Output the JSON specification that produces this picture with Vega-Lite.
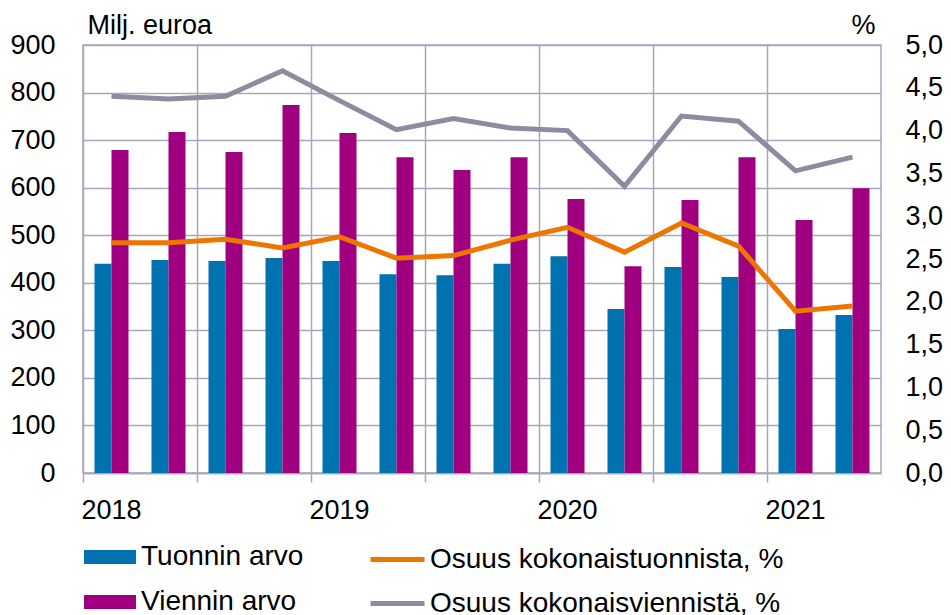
{
  "$schema": "https://vega.github.io/schema/vega-lite/v6.json",
  "width": 798,
  "height": 428,
  "autosize": {"type": "none"},
  "padding": {"left": 83, "top": 45, "right": 70, "bottom": 142},
  "background": "white",
  "config": {
    "font": "Liberation Sans",
    "view": {"stroke": "#A6A6BC", "strokeWidth": 1.5},
    "axis": {
      "labelFont": "Liberation Sans",
      "labelColor": "#000000",
      "labelFontSize": 27,
      "titleFont": "Liberation Sans",
      "titleFontSize": 27,
      "titleFontWeight": "normal",
      "titleColor": "#000000",
      "gridColor": "#A6A6BC",
      "gridWidth": 1.5,
      "gridOpacity": 1,
      "domainColor": "#A6A6BC",
      "domainWidth": 1.5,
      "tickColor": "#A6A6BC",
      "tickWidth": 1.5
    },
    "legend": {
      "labelFont": "Liberation Sans",
      "labelFontSize": 28,
      "labelColor": "#000000",
      "labelLimit": 0,
      "padding": 0
    }
  },
  "data": {
    "values": [
      {"q": "2018Q1", "sarja": "Tuonnin arvo", "arvo": 440},
      {"q": "2018Q2", "sarja": "Tuonnin arvo", "arvo": 448},
      {"q": "2018Q3", "sarja": "Tuonnin arvo", "arvo": 446},
      {"q": "2018Q4", "sarja": "Tuonnin arvo", "arvo": 452},
      {"q": "2019Q1", "sarja": "Tuonnin arvo", "arvo": 446},
      {"q": "2019Q2", "sarja": "Tuonnin arvo", "arvo": 418},
      {"q": "2019Q3", "sarja": "Tuonnin arvo", "arvo": 416},
      {"q": "2019Q4", "sarja": "Tuonnin arvo", "arvo": 440},
      {"q": "2020Q1", "sarja": "Tuonnin arvo", "arvo": 456},
      {"q": "2020Q2", "sarja": "Tuonnin arvo", "arvo": 345},
      {"q": "2020Q3", "sarja": "Tuonnin arvo", "arvo": 433},
      {"q": "2020Q4", "sarja": "Tuonnin arvo", "arvo": 412},
      {"q": "2021Q1", "sarja": "Tuonnin arvo", "arvo": 303},
      {"q": "2021Q2", "sarja": "Tuonnin arvo", "arvo": 332},
      {"q": "2018Q1", "sarja": "Viennin arvo", "arvo": 679},
      {"q": "2018Q2", "sarja": "Viennin arvo", "arvo": 717},
      {"q": "2018Q3", "sarja": "Viennin arvo", "arvo": 675},
      {"q": "2018Q4", "sarja": "Viennin arvo", "arvo": 774},
      {"q": "2019Q1", "sarja": "Viennin arvo", "arvo": 715},
      {"q": "2019Q2", "sarja": "Viennin arvo", "arvo": 664},
      {"q": "2019Q3", "sarja": "Viennin arvo", "arvo": 637},
      {"q": "2019Q4", "sarja": "Viennin arvo", "arvo": 664},
      {"q": "2020Q1", "sarja": "Viennin arvo", "arvo": 576},
      {"q": "2020Q2", "sarja": "Viennin arvo", "arvo": 435},
      {"q": "2020Q3", "sarja": "Viennin arvo", "arvo": 574},
      {"q": "2020Q4", "sarja": "Viennin arvo", "arvo": 664},
      {"q": "2021Q1", "sarja": "Viennin arvo", "arvo": 532},
      {"q": "2021Q2", "sarja": "Viennin arvo", "arvo": 599},
      {"q": "2018Q1", "sarja": "Osuus kokonaistuonnista, %", "arvo": 2.69},
      {"q": "2018Q2", "sarja": "Osuus kokonaistuonnista, %", "arvo": 2.69},
      {"q": "2018Q3", "sarja": "Osuus kokonaistuonnista, %", "arvo": 2.73},
      {"q": "2018Q4", "sarja": "Osuus kokonaistuonnista, %", "arvo": 2.63},
      {"q": "2019Q1", "sarja": "Osuus kokonaistuonnista, %", "arvo": 2.76},
      {"q": "2019Q2", "sarja": "Osuus kokonaistuonnista, %", "arvo": 2.51},
      {"q": "2019Q3", "sarja": "Osuus kokonaistuonnista, %", "arvo": 2.54},
      {"q": "2019Q4", "sarja": "Osuus kokonaistuonnista, %", "arvo": 2.72},
      {"q": "2020Q1", "sarja": "Osuus kokonaistuonnista, %", "arvo": 2.87},
      {"q": "2020Q2", "sarja": "Osuus kokonaistuonnista, %", "arvo": 2.58},
      {"q": "2020Q3", "sarja": "Osuus kokonaistuonnista, %", "arvo": 2.92},
      {"q": "2020Q4", "sarja": "Osuus kokonaistuonnista, %", "arvo": 2.65},
      {"q": "2021Q1", "sarja": "Osuus kokonaistuonnista, %", "arvo": 1.89},
      {"q": "2021Q2", "sarja": "Osuus kokonaistuonnista, %", "arvo": 1.95},
      {"q": "2018Q1", "sarja": "Osuus kokonaisviennistä, %", "arvo": 4.40},
      {"q": "2018Q2", "sarja": "Osuus kokonaisviennistä, %", "arvo": 4.37},
      {"q": "2018Q3", "sarja": "Osuus kokonaisviennistä, %", "arvo": 4.40},
      {"q": "2018Q4", "sarja": "Osuus kokonaisviennistä, %", "arvo": 4.70},
      {"q": "2019Q1", "sarja": "Osuus kokonaisviennistä, %", "arvo": 4.35},
      {"q": "2019Q2", "sarja": "Osuus kokonaisviennistä, %", "arvo": 4.01},
      {"q": "2019Q3", "sarja": "Osuus kokonaisviennistä, %", "arvo": 4.14},
      {"q": "2019Q4", "sarja": "Osuus kokonaisviennistä, %", "arvo": 4.03},
      {"q": "2020Q1", "sarja": "Osuus kokonaisviennistä, %", "arvo": 4.00},
      {"q": "2020Q2", "sarja": "Osuus kokonaisviennistä, %", "arvo": 3.35},
      {"q": "2020Q3", "sarja": "Osuus kokonaisviennistä, %", "arvo": 4.17},
      {"q": "2020Q4", "sarja": "Osuus kokonaisviennistä, %", "arvo": 4.11},
      {"q": "2021Q1", "sarja": "Osuus kokonaisviennistä, %", "arvo": 3.53},
      {"q": "2021Q2", "sarja": "Osuus kokonaisviennistä, %", "arvo": 3.69}
    ]
  },
  "layer": [
    {
      "transform": [{"filter": "datum.sarja == 'Tuonnin arvo' || datum.sarja == 'Viennin arvo'"}],
      "mark": {"type": "bar"},
      "encoding": {
        "x": {
          "field": "q",
          "type": "ordinal",
          "sort": null,
          "scale": {"paddingInner": 0, "paddingOuter": 0},
          "axis": {
            "title": null,
            "values": ["2018Q1", "2018Q3", "2019Q1", "2019Q3", "2020Q1", "2020Q3", "2021Q1"],
            "bandPosition": 0,
            "labelOffset": 0,
            "labelExpr": "indexof(datum.value, 'Q1') > 0 ? slice(datum.value, 0, 4) : ''",
            "labelAngle": 0,
            "labelOverlap": false,
            "grid": true,
            "ticks": true,
            "tickSize": 9,
            "labelPadding": 15
          }
        },
        "xOffset": {
          "field": "sarja",
          "type": "nominal",
          "sort": ["Tuonnin arvo", "Viennin arvo"],
          "scale": {"paddingInner": 0, "paddingOuter": 0.676}
        },
        "y": {
          "field": "arvo",
          "type": "quantitative",
          "scale": {"domain": [0, 900], "nice": false},
          "axis": {
            "values": [0, 100, 200, 300, 400, 500, 600, 700, 800, 900],
            "title": "Milj. euroa",
            "titleAngle": 0,
            "titleX": 4,
            "titleY": -12,
            "titleAlign": "left",
            "titleBaseline": "alphabetic",
            "ticks": false,
            "tickSize": 0,
            "domain": false,
            "grid": true,
            "labelPadding": 28
          }
        },
        "fill": {
          "field": "sarja",
          "type": "nominal",
          "scale": {"domain": ["Tuonnin arvo", "Viennin arvo"], "range": ["#0072B0", "#A0007F"]},
          "legend": {
            "orient": "none",
            "legendX": 1,
            "legendY": 486,
            "title": null,
            "direction": "vertical",
            "symbolType": "M-1,-0.27L1,-0.27L1,0.27L-1,0.27Z",
            "symbolSize": 2704,
            "symbolStrokeWidth": 0,
            "symbolOpacity": 1,
            "rowPadding": 5,
            "labelOffset": 5
          }
        }
      }
    },
    {
      "transform": [{"filter": "datum.sarja != 'Tuonnin arvo' && datum.sarja != 'Viennin arvo'"}],
      "mark": {"type": "line", "strokeWidth": 5},
      "encoding": {
        "x": {"field": "q", "type": "ordinal", "sort": null},
        "y": {
          "field": "arvo",
          "type": "quantitative",
          "scale": {"domain": [0, 5], "nice": false},
          "axis": {
            "orient": "right",
            "values": [0, 0.5, 1, 1.5, 2, 2.5, 3, 3.5, 4, 4.5, 5],
            "format": ".1f",
            "labelExpr": "replace(datum.label, '.', ',')",
            "title": "%",
            "titleAngle": 0,
            "titleX": -6,
            "titleY": -12,
            "titleAlign": "right",
            "titleBaseline": "alphabetic",
            "ticks": false,
            "tickSize": 0,
            "domain": false,
            "grid": false,
            "labelPadding": 24
          }
        },
        "stroke": {
          "field": "sarja",
          "type": "nominal",
          "scale": {"domain": ["Osuus kokonaistuonnista, %", "Osuus kokonaisviennistä, %"], "range": ["#EE7600", "#8C8CA0"]},
          "legend": {
            "orient": "none",
            "legendX": 285,
            "legendY": 485,
            "title": null,
            "direction": "vertical",
            "symbolType": "stroke",
            "symbolSize": 2916,
            "symbolStrokeWidth": 5,
            "rowPadding": -13,
            "labelOffset": 3
          }
        }
      }
    }
  ],
  "resolve": {"scale": {"y": "independent"}}
}
